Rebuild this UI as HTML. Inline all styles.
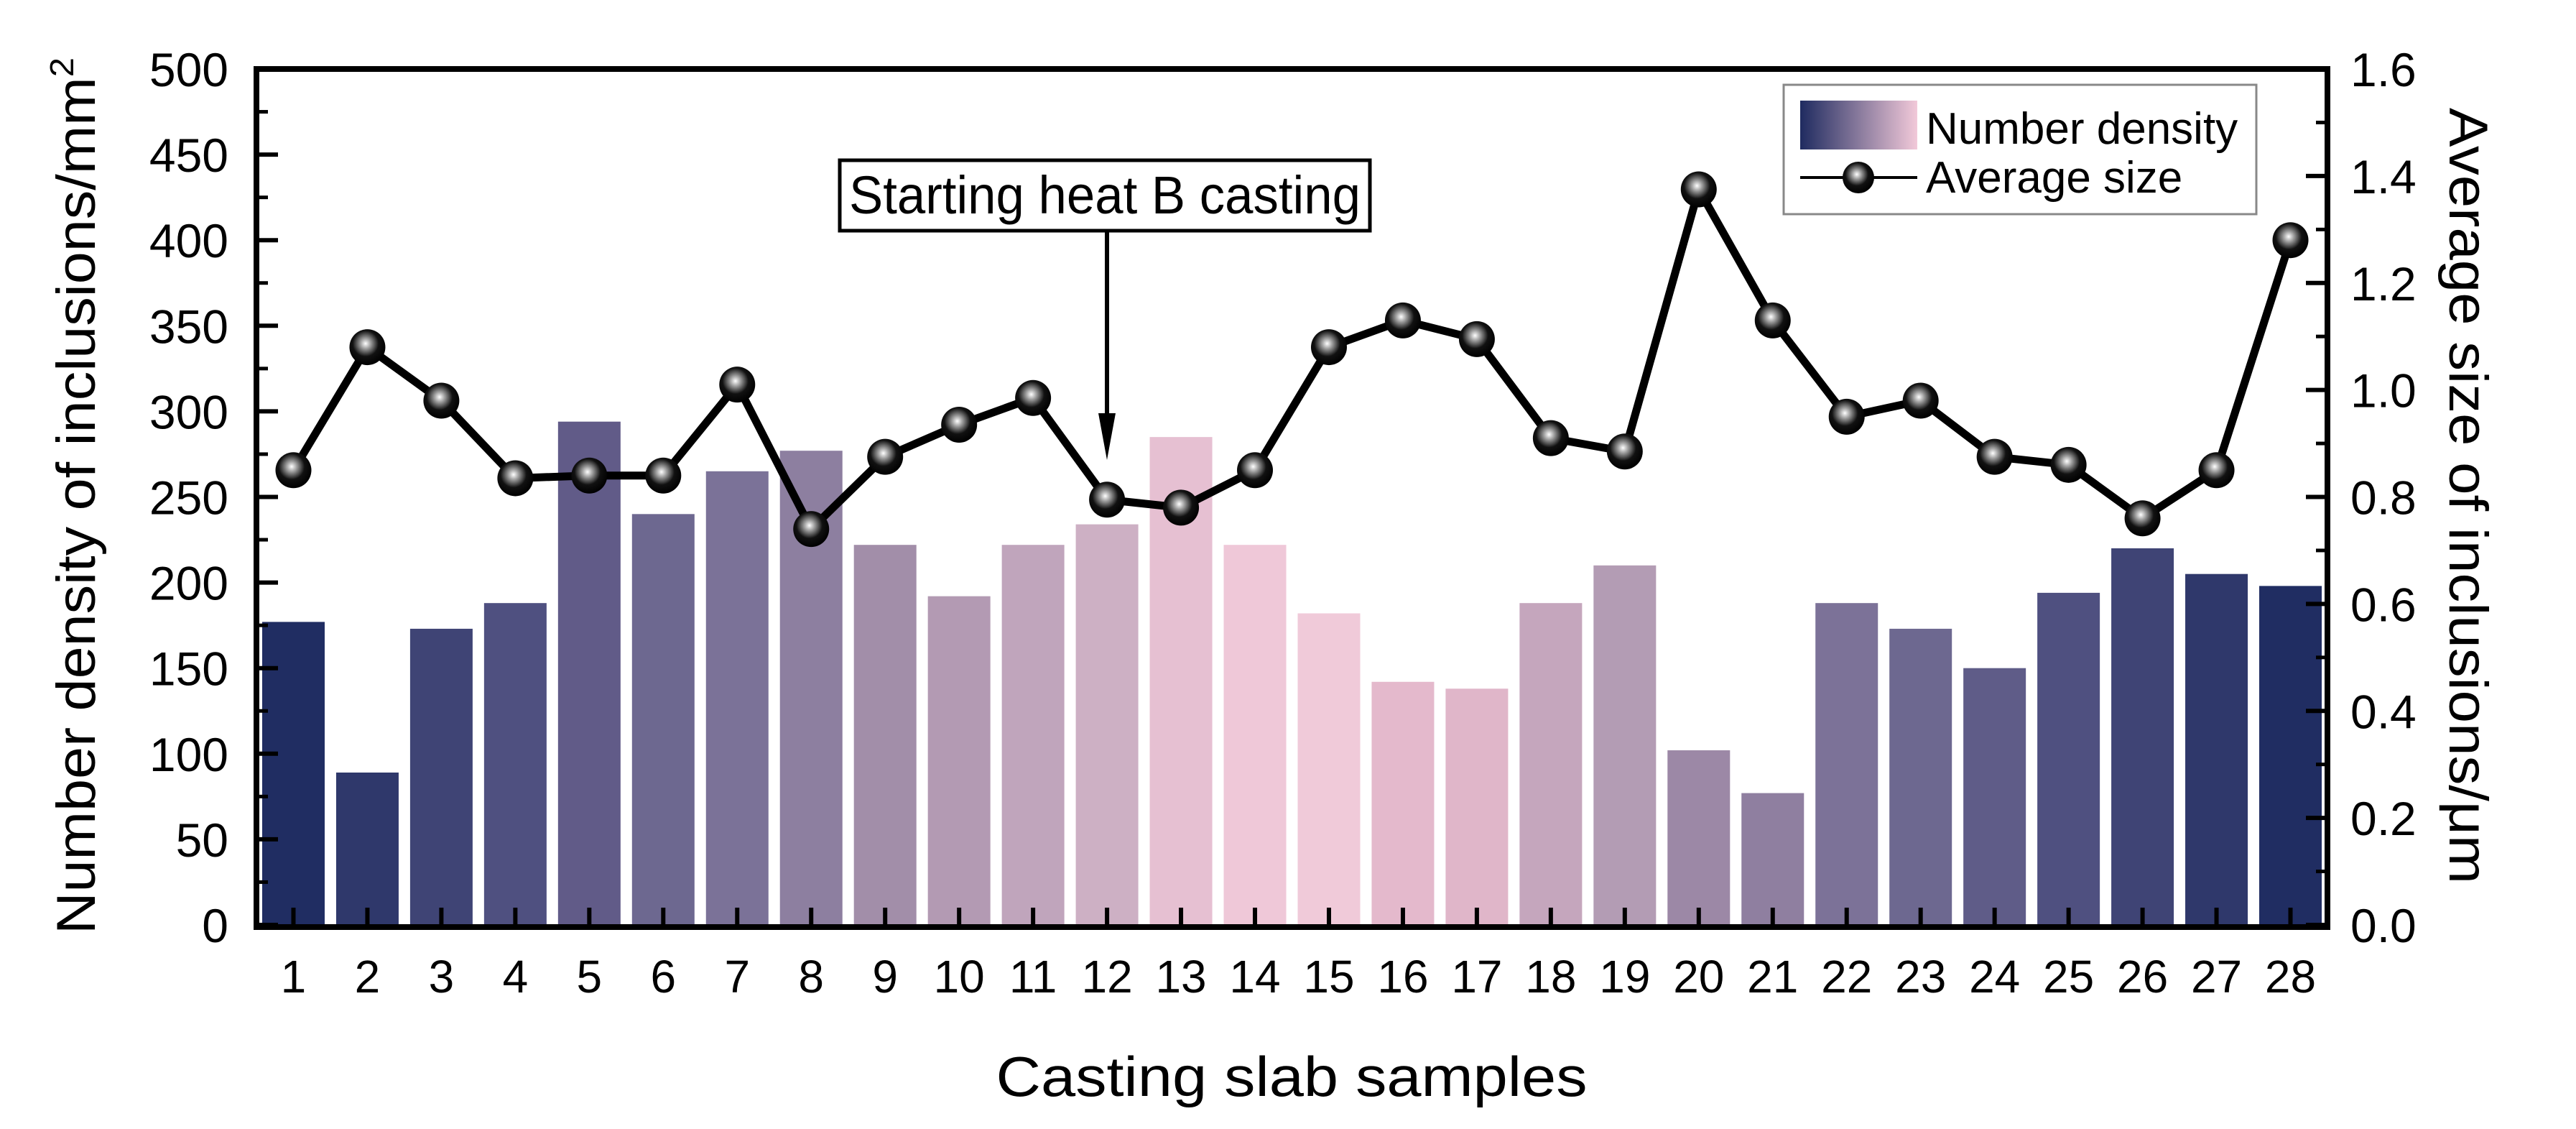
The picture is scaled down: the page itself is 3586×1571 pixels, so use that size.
<!DOCTYPE html>
<html><head><meta charset="utf-8"><style>
html,body{margin:0;padding:0;background:#fff}
svg{display:block;font-family:"Liberation Sans",Arial,sans-serif}
</style></head><body>
<svg id="chart" width="3586" height="1571" viewBox="0 0 3586 1571" xmlns="http://www.w3.org/2000/svg">
<defs>
<radialGradient id="ball" cx="0.45" cy="0.4" r="0.6">
<stop offset="0" stop-color="#ffffff"/><stop offset="0.25" stop-color="#9a9a9a"/><stop offset="0.6" stop-color="#111"/><stop offset="1" stop-color="#000"/>
</radialGradient>
<linearGradient id="legGrad" x1="0" x2="1" y1="0" y2="0">
<stop offset="0" stop-color="#1f2b60"/><stop offset="1" stop-color="#f2c9d9"/>
</linearGradient>
</defs>
<g id="bars"></g>
<g id="line"></g>
<g id="axes"></g>
<g>
<rect x="1169" y="223" width="738" height="98" fill="#fff" stroke="#000" stroke-width="5"/>
<text x="1182" y="297" font-size="74" textLength="712" lengthAdjust="spacingAndGlyphs">Starting heat B casting</text>
<line x1="1541" y1="321" x2="1541" y2="590" stroke="#000" stroke-width="6"/>
<polygon points="1529,575 1553,575 1541,640" fill="#000"/>
</g>
<g>
<rect x="2483" y="118" width="658" height="180" fill="#fff" stroke="#888" stroke-width="3"/>
<rect x="2506" y="140" width="163" height="68" fill="url(#legGrad)"/>
<text x="2681" y="200" font-size="62">Number density</text>
<line x1="2506" y1="247" x2="2669" y2="247" stroke="#000" stroke-width="4"/>
<circle cx="2587" cy="247" r="22" fill="url(#ball)"/>
<text x="2681" y="268" font-size="62">Average size</text>
</g>
<text transform="translate(132,690) rotate(-90)" text-anchor="middle" font-size="76" textLength="1220" lengthAdjust="spacingAndGlyphs">Number density of inclusions/mm<tspan font-size="46" dy="-30">2</tspan></text>
<text transform="translate(3410,690) rotate(90)" text-anchor="middle" font-size="76" textLength="1080" lengthAdjust="spacingAndGlyphs">Average size of inclusions/μm</text>
<text x="1798" y="1525" text-anchor="middle" font-size="78" textLength="823" lengthAdjust="spacingAndGlyphs">Casting slab samples</text>
</svg>
<script>
const categories = ["1","2","3","4","5","6","7","8","9","10","11","12","13","14","15","16","17","18","19","20","21","22","23","24","25","26","27","28"];
const densityValues = [177,89,173,188,294,240,265,277,222,192,222,234,285,222,182,142,138,188,210,102,77,188,173,150,194,220,205,198];
const sizeValues = [0.85,1.08,0.98,0.835,0.84,0.84,1.01,0.74,0.875,0.935,0.985,0.795,0.78,0.85,1.08,1.13,1.095,0.91,0.885,1.375,1.13,0.95,0.98,0.875,0.86,0.76,0.85,1.28];
const leftTicks = [0,50,100,150,200,250,300,350,400,450,500];
const rightTicks = [0,0.2,0.4,0.6,0.8,1.0,1.2,1.4,1.6];
const barColors = ["#202d62","#2f386b","#3f4475","#4f5080","#615b88","#6d6890","#7b7298","#8d7fa0","#a28ea9","#b39ab3","#c0a5bc","#cdb0c4","#e6c0d2","#efc8d8","#f0cad9","#e4b9cc","#e0b6c9","#c5a6bd","#b39cb4","#9c88a6","#8f7fa0","#7c7298","#6d6890","#5f5c88","#4f5080","#3f4475","#2f386b","#202d62"];
const NS="http://www.w3.org/2000/svg";
const X0=357,X1=3240,Y0=1287,Y1=96;
const step=(X1-X0)/categories.length;
const xPos=i=>X0+(i+0.5)*step;
const yL=v=>Y0-(v/500)*(Y0-Y1);
const yR=v=>Y0-(v/1.6)*(Y0-Y1);
function mk(tag,attrs,parent){const e=document.createElementNS(NS,tag);for(const k in attrs)e.setAttribute(k,attrs[k]);parent.appendChild(e);return e;}
const bars=document.getElementById('bars');
densityValues.forEach((v,i)=>{
  const w=step*0.845;
  const r=mk('rect',{x:xPos(i)-w/2,y:yL(v),width:w,height:Y0-yL(v),fill:barColors[i]},bars);
  
  
});
const line=document.getElementById('line');
const pts=sizeValues.map((v,i)=>xPos(i)+','+yR(v)).join(' ');
const pl=mk('polyline',{points:pts,fill:'none',stroke:'#000','stroke-width':11,'stroke-linejoin':'round'},line);


sizeValues.forEach((v,i)=>{
  const c=mk('circle',{cx:xPos(i),cy:yR(v),r:25,fill:'url(#ball)'},line);
  
  
});
const axes=document.getElementById('axes');
const frame=mk('rect',{x:X0,y:Y1,width:X1-X0,height:Y0-Y1+3,fill:'none',stroke:'#000','stroke-width':8},axes);


leftTicks.forEach((t,i)=>{
  const y=yL(t);
  mk('line',{x1:X0,x2:X0+30,y1:y,y2:y,stroke:'#000','stroke-width':6},axes);
  if(i<leftTicks.length-1) mk('line',{x1:X0,x2:X0+16,y1:yL(t+25),y2:yL(t+25),stroke:'#000','stroke-width':5},axes);
  const tx=mk('text',{x:318,y:y+24,'text-anchor':'end','font-size':66},axes);
  tx.textContent=t;
  
  
});
rightTicks.forEach((t,i)=>{
  const y=yR(t);
  mk('line',{x1:X1-30,x2:X1,y1:y,y2:y,stroke:'#000','stroke-width':6},axes);
  if(i<rightTicks.length-1) mk('line',{x1:X1-16,x2:X1,y1:yR(t+0.1),y2:yR(t+0.1),stroke:'#000','stroke-width':5},axes);
  const tx=mk('text',{x:3272,y:y+24,'font-size':66},axes);
  tx.textContent=t.toFixed(1);
  
  
});
categories.forEach((c,i)=>{
  const x=xPos(i);
  mk('line',{x1:x,x2:x,y1:Y0-24,y2:Y0,stroke:'#000','stroke-width':6},axes);
  const tx=mk('text',{x:x,y:1381,'text-anchor':'middle','font-size':64},axes);
  tx.textContent=c;
  
  
});
</script>
</body></html>
